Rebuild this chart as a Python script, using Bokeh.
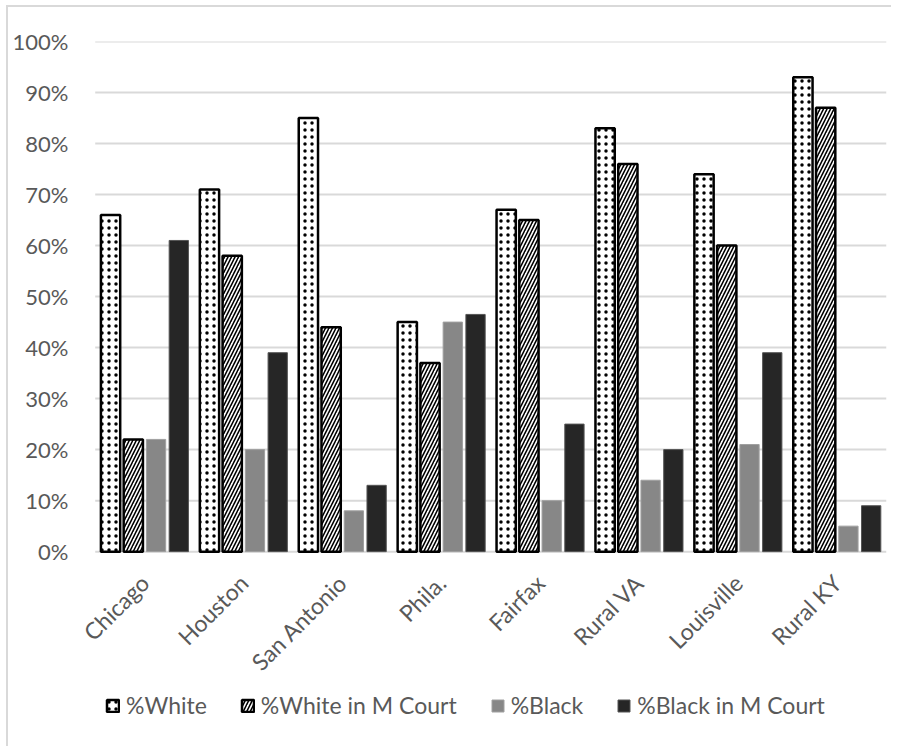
import math
from bokeh.plotting import figure
from bokeh.models import ColumnDataSource, Legend, LegendItem, FixedTicker, CustomJSTickFormatter
from bokeh.core.properties import value
from bokeh.transform import dodge
from bokeh.embed import file_html
from bokeh.resources import INLINE

categories = ["Chicago", "Houston", "San Antonio", "Phila.", "Fairfax", "Rural VA", "Louisville", "Rural KY"]
white = [66, 71, 85, 45, 67, 83, 74, 93]
white_m_court = [22, 58, 44, 37, 65, 76, 60, 87]
black = [22, 20, 8, 45, 10, 14, 21, 5]
black_m_court = [61, 39, 13, 46.5, 25, 20, 39, 9]
y_ticks = [0, 10, 20, 30, 40, 50, 60, 70, 80, 90, 100]

n = len(categories)
xc = [i + 0.5 for i in range(n)]  # category centres on a numeric scale
source = ColumnDataSource(data=dict(xc=xc, cat=categories, white=white, white_m=white_m_court,
                                    black=black, black_m=black_m_court))

FONT = "Lato"
TXT = "#595959"
GRID = "#d9d9d9"

Y_MIN = -38
X_MIN = -0.25
p = figure(x_range=(X_MIN, n), y_range=(Y_MIN, 100),
           frame_width=816, frame_height=704,
           output_backend="svg", toolbar_location=None, x_axis_location=None,
           min_border_left=70, min_border_right=5, min_border_top=41, min_border_bottom=1)
p.outline_line_color = None
p.background_fill_color = "white"
p.border_fill_color = None
p.styles = {"background": "linear-gradient(#d9d9d9,#d9d9d9) 6px 5px / 2px 100% no-repeat, "
                          "linear-gradient(#d9d9d9,#d9d9d9) 6px 5px / 100% 2px no-repeat, white"}

# horizontal gridlines at the y ticks, across the category area only
grid_src = ColumnDataSource(data=dict(y=y_ticks, x0=[0] * len(y_ticks), x1=[n] * len(y_ticks)))
p.segment(x0="x0", x1="x1", y0="y", y1="y", source=grid_src, line_color=GRID, line_width=2)

bw = 0.195
r1 = p.vbar(x=dodge("xc", -0.345), top="white", width=bw, source=source,
            fill_color="white", line_color="black", line_width=2.5,
            hatch_pattern="dot", hatch_color="black", hatch_scale=7, hatch_weight=2.2)
r2 = p.vbar(x=dodge("xc", -0.115), top="white_m", width=bw, source=source,
            fill_color="white", line_color="black", line_width=2.5,
            hatch_pattern="/", hatch_color="black", hatch_scale=7, hatch_weight=1.6)
r3 = p.vbar(x=dodge("xc", 0.115), top="black", width=bw, source=source,
            fill_color="#878787", line_color="#a0a0a0", line_width=1)
r4 = p.vbar(x=dodge("xc", 0.345), top="black_m", width=bw, source=source,
            fill_color="#262626", line_color="#555555", line_width=1)

# category labels, rotated 45 degrees like the original axis labels
lab_src = ColumnDataSource(data=dict(xc=xc, cat=categories, y=[-5.3] * n))
p.text(x="xc", y="y", text="cat", source=lab_src,
       angle=math.pi / 4, text_align="right", text_baseline="middle",
       text_font=value(FONT), text_font_size="23px", text_color=TXT)

p.xgrid.grid_line_color = None
p.ygrid.grid_line_color = None

p.yaxis.ticker = FixedTicker(ticks=y_ticks)
p.yaxis.formatter = CustomJSTickFormatter(code="return tick.toFixed(0) + '%';")
p.yaxis.axis_line_color = None
p.yaxis.major_tick_line_color = None
p.yaxis.minor_tick_line_color = None
p.yaxis.major_tick_out = 0
p.yaxis.major_tick_in = 0
p.yaxis.minor_tick_out = 0
p.yaxis.major_label_text_font = FONT
p.yaxis.major_label_text_font_size = "22px"
p.yaxis.major_label_text_color = TXT
p.yaxis.major_label_standoff = 2

legend = Legend(items=[
    LegendItem(label="%White", renderers=[r1]),
    LegendItem(label="%White in M Court", renderers=[r2]),
    LegendItem(label="%Black", renderers=[r3]),
    LegendItem(label="%Black in M Court", renderers=[r4]),
], orientation="horizontal", location=(35, 26),
    label_text_font=FONT, label_text_font_size="23px", label_text_color=TXT,
    glyph_width=15, glyph_height=15, label_standoff=6, spacing=33,
    border_line_color=None, background_fill_alpha=0, margin=0, padding=0)
p.add_layout(legend)

open("out.html", "w").write(file_html(p, INLINE))
